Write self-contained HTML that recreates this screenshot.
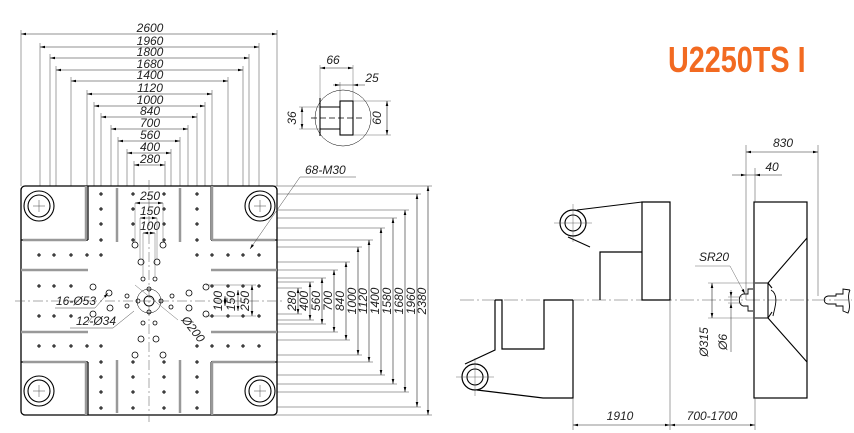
<!DOCTYPE html>
<html><head><meta charset="utf-8"><style>
html,body{margin:0;padding:0;background:#fff;}
svg{display:block;}
text{font-family:"Liberation Sans",sans-serif;font-style:italic;fill:#222;}
</style></head><body>
<svg id="s" width="854" height="433" viewBox="0 0 854 433" xmlns="http://www.w3.org/2000/svg">
<text x="668" y="72" style="font-style:normal;font-weight:bold;font-size:36px;fill:#f26a21" transform="translate(668 0) scale(0.8 1) translate(-668 0)">U2250TS I</text>
<g id="g" fill="none" stroke="#000"></g>
</svg>
<script>
var g=document.getElementById('g');var NS='http://www.w3.org/2000/svg';
function el(t,a,p){var e=document.createElementNS(NS,t);for(var k in a)e.setAttribute(k,a[k]);(p||g).appendChild(e);return e;}
function L(x1,y1,x2,y2,w,c,d){var a={x1:x1,y1:y1,x2:x2,y2:y2,'stroke-width':w||0.5,stroke:c||'#444'};if(d)a['stroke-dasharray']=d;el('line',a);}
function T(x,y,s,rot,fs,anchor){var a={x:x,y:y,'font-size':fs||12,'text-anchor':anchor||'middle',stroke:'none'};if(rot)a.transform='rotate('+rot+' '+x+' '+y+')';var e=el('text',a);e.textContent=s;}
function ar(x,y,dx,dy){var px=-dy,py=dx;el('path',{d:'M'+x+' '+y+' L'+(x-dx*5+px*1.3)+' '+(y-dy*5+py*1.3)+' L'+(x-dx*5-px*1.3)+' '+(y-dy*5-py*1.3)+'Z',fill:'#000',stroke:'none'});}
function H(x1,x2,y,s,tx,ty){L(x1,y,x2,y,0.6,'#222');ar(x1,y,-1,0);ar(x2,y,1,0);if(s)T(tx||(x1+x2)/2,ty||y-3,s);}
function V(x,y1,y2,s,tx,ty){L(x,y1,x,y2,0.6,'#222');ar(x,y1,0,-1);ar(x,y2,0,1);if(s)T(tx||x-3,ty||(y1+y2)/2,s,-90);}
function C(x,y,r,w,f){el('circle',{cx:x,cy:y,r:r,'stroke-width':w||1,fill:f||'none'});}
function R(x,y,w,h,sw){el('rect',{x:x,y:y,width:w,height:h,'stroke-width':sw||1.2});}
var hd=[[2600,34,21,277,186],[1960,47,40,259,206],[1800,58,50,249,255],[1680,70,56,243,255],[1400,81,71,228,255],[1120,94,87,212,287],[1000,106,94,205,287],[840,117,101,197,255],[700,129,111,188,293],[560,141,118,180,296],[400,153,127,171,296],[280,165,134,165,262]];
hd.forEach(function(d){L(d[2],d[1]-4,d[2],d[4],0.5);L(d[3],d[1]-4,d[3],d[4],0.5);H(d[2],d[3],d[1],''+d[0],150,d[1]-2);});
var vd=[[2380,428,186,415],[1960,417,194,407],[1680,405,210,392],[1580,393,218,384],[1400,381,228,375],[1120,369,240,362],[1000,358,247,355],[840,346,262,340],[700,334,270,332],[560,322,278,324],[400,310,282,320],[280,298,288,314]];
vd.forEach(function(d){L(200,d[2],d[1]+4,d[2],0.5);L(200,d[3],d[1]+4,d[3],0.5);V(d[1],d[2],d[3],''+d[0],d[1]-2,301);});
el('rect',{x:21,y:186,width:256,height:229,rx:4,'stroke-width':1.3,fill:'#fff'});
L(15,301,285,301,0.5,'#555','10 3 2 3');L(149,180,149,422,0.5,'#555','10 3 2 3');
[[21,88,240,186],[211,277,240,186],[21,88,362,415],[211,277,362,415]].forEach(function(c){L(c[0],c[2],c[1],c[2],1.2,'#000');var vx=c[0]==21?88:211;L(vx,c[2],vx,c[3],1.2,'#000');});
function gb(x1,y1,x2,y2){L(x1,y1,x2,y2,2.5,'#999');}
gb(21,270,88,270);gb(211,270,277,270);gb(21,332,88,332);gb(211,332,277,332);
gb(86,186,86,240);gb(212,186,212,240);gb(86,362,86,415);gb(212,362,212,415);
gb(117,188,117,242);gb(180,188,180,242);gb(117,360,117,413);gb(180,360,180,413);
gb(23,240,86,240);gb(23,362,86,362);gb(212,240,275,240);gb(212,362,275,362);
[[39,206],[260,206],[39,391],[260,391]].forEach(function(p){C(p[0],p[1],15,1.1);C(p[0],p[1],11,1.1);L(p[0]-6,p[1],p[0]+6,p[1],0.5);L(p[0],p[1]-6,p[0],p[1]+6,0.5);});
function D(x,y){C(x,y,1.4,0.5,'#444');}
[255,346].forEach(function(y){[39,54,71,87,101,197,212,228,243,259].forEach(function(x){D(x,y);});});
[286,316].forEach(function(y){[39,54,71,212,228,243,259].forEach(function(x){D(x,y);});});
[101,133,164,197].forEach(function(x){[194,209,224,240,362,377,392,408].forEach(function(y){D(x,y);});});
[[135,245],[163,245],[141,262],[157,262],[93,287],[109,293],[110,308],[93,314],[189,293],[189,308],[206,287],[206,314],[141,339],[156,339],[135,355],[163,355]].forEach(function(p){C(p[0],p[1],3,0.8);});
[[143,279],[155,279],[127,296],[127,306],[138,301],[161,301],[149,289],[149,312],[172,296],[171,307],[143,323],[155,323]].forEach(function(p){C(p[0],p[1],2,0.8);});
C(149,301,5,0.9);C(149,301,12,0.5);
H(135,163,203,'250',150,200);H(140,157,218,'150',150,215);H(143,155,233,'100',150,230);
L(135,203,135,242,0.4);L(163,203,163,242,0.4);L(140,218,140,259,0.4);L(157,218,157,259,0.4);L(143,233,143,276,0.4);L(155,233,155,276,0.4);
V(225,296,306,'100',222,301);V(238,290,311,'150',235,301);V(252,285,316,'250',249,301);
L(206,285,256,285,0.4);L(206,316,256,316,0.4);
T(56,305,'16-Ø53',0,12,'start');L(55,308,95,308,0.5);L(95,308,108,293,0.5);ar(108,293,0.65,-0.75);
T(76,325,'12-Ø34',0,12,'start');L(70,328,113,328,0.5);L(113,328,134,311,0.5);L(88,323,92,317,0.5);
L(135,285,178,320,0.4);T(181,320,'Ø200',52,12,'start');
L(250,249,300,177,0.5);L(300,177,356,177,0.5);ar(250,249,-0.57,0.82);T(305,174,'68-M30',0,12,'start');
C(343,118,28,0.5);L(320,98,320,136,1.1,'#000');L(320,107,340,107,0.9,'#000');L(320,129,340,129,0.9,'#000');R(340,101,13,34,1.1);
L(311,118,362,118,0.8,'#000','6 3');
L(320,65,320,98,0.4);L(353,65,353,101,0.4);H(320,353,68,'66',333,64);
L(340,82,340,101,0.4);L(333,85,365,85,0.6,'#222');ar(340,85,1,0);ar(353,85,-1,0);T(372,82,'25');
L(299,107,320,107,0.4);L(299,129,320,129,0.4);V(302,107,129,'36',296,118);
L(353,101,391,101,0.4);L(353,135,391,135,0.4);V(387,101,135,'60',381,118);
L(460,300,852,300,0.5,'#555','14 3 2 3');
el('path',{d:'M642 202 L670 202 L670 300 L642 300 Z M600 300 L600 252 L642 252','stroke-width':1.2});
L(642,202,577,210,1,'#000');L(568,237,590,247,1,'#000');C(573,223,13,1.2);C(573,223,8,1.1);L(554,223,592,223,0.4);L(573,204,573,242,0.4);
el('path',{d:'M573 300 L573 398 L543 398 L477 390 M495 300 L495 350 L465 364 M495 300 L502 300 L502 349 L544 349 L544 300 L573 300','stroke-width':1.2});
C(475,377,13,1.2);C(475,377,8,1.1);L(456,377,494,377,0.4);L(475,358,475,396,0.4);
R(754,202,53,196,1.2);
el('path',{d:'M807 238 L768 283 M807 362 L768 318 M755 283 L768 283 L768 318 L755 318 M768 283 L772 288 M768 318 L772 312','stroke-width':1.1});
el('path',{d:'M771 290 C780 295,774 310,773 316 M753 289 L748 289 L748 294 L743 294 C738 296,738 304,743 306 L748 306 L748 311 L753 311','stroke-width':0.9});
el('path',{d:'M850 290 L843 289 L843 294 L836 294 L836 296 L828 296 C823 297,823 303,828 304 L836 304 L836 306 L843 306 L843 311 L848 313 C852 305,846 298,850 290','stroke-width':0.9});
L(746,145,746,300,0.5);L(818,145,818,296,0.5);H(746,818,152,'830',783,147);
L(755,168,755,202,0.5);L(732,175,782,175,0.6,'#222');ar(746,175,1,0);ar(755,175,-1,0);T(772,171,'40');
L(573,398,573,430,0.5);L(670,300,670,430,0.5);L(755,398,755,430,0.5);
H(573,670,425,'1910',620,420);H(670,755,425,'700-1700',712,420);
T(699,261,'SR20',0,12,'start');L(695,266,730,266,0.4);L(730,266,745,294,0.4);ar(745,294,0.47,0.88);
L(708,283,755,283,0.4);L(708,318,755,318,0.4);V(712,283,318,'Ø315',708,342);
L(728,297,742,297,0.4);L(728,303,742,303,0.4);L(731,290,731,352,0.5,'#222');ar(731,297,0,1);ar(731,303,0,-1);T(727,342,'Ø6',-90);
</script>
</body></html>
